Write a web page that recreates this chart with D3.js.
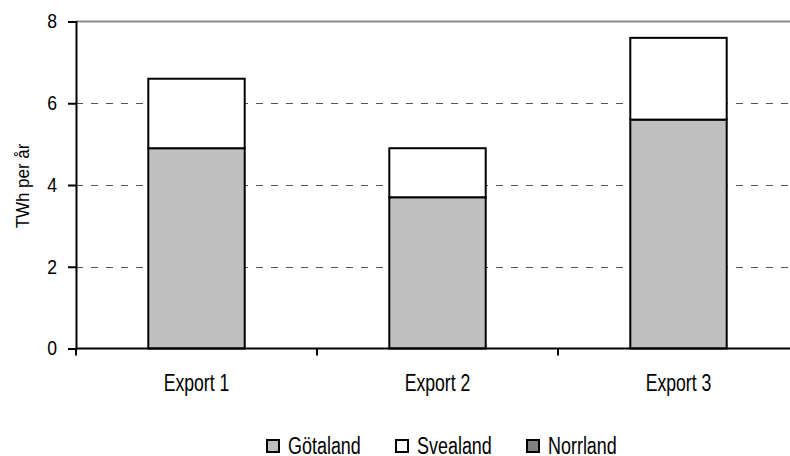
<!DOCTYPE html>
<html><head><meta charset="utf-8">
<script src="https://cdn.jsdelivr.net/npm/d3@7"></script>
<style>
html,body{margin:0;padding:0;background:#fff;}
svg{display:block;font-family:"Liberation Sans",Arial,sans-serif;}
</style></head>
<body>
<svg id="c" width="790" height="456"></svg>
<script>
const categories = ["Export 1", "Export 2", "Export 3"];
const seriesNames = ["Götaland", "Svealand", "Norrland"];
const gotaland = [4.9, 3.7, 5.6];
const svealand = [1.7, 1.2, 2.0];
const norrland = [0, 0, 0];
const yTicks = [0, 2, 4, 6, 8];
const colors = ["#c0c0c0", "#ffffff", "#808080"];

const svg = d3.select("#c");
const x0 = 76, x1 = 799, yTop = 21.5, yBot = 348.5;
const x = d3.scaleBand().domain(categories).range([x0, x1]).padding(0);
const y = d3.scaleLinear().domain([0, 8]).range([yBot, yTop]);

const rows = categories.map((c, i) => ({cat: c, "Götaland": gotaland[i], "Svealand": svealand[i], "Norrland": norrland[i]}));
const stack = d3.stack().keys(seriesNames)(rows);

// narrow the glyphs (emulates a condensed face)
function narrow(sel, f) {
  sel.each(function () {
    const w = this.getComputedTextLength();
    if (w > 0) {
      this.setAttribute("textLength", (w * f).toFixed(2));
      this.setAttribute("lengthAdjust", "spacingAndGlyphs");
    }
  });
}

// gridlines
svg.append("g").selectAll("line").data(yTicks.filter(t => t > 0 && t < 8)).join("line")
  .attr("x1", x0).attr("x2", x1).attr("y1", d => Math.round(y(d)) + 0.5).attr("y2", d => Math.round(y(d)) + 0.5)
  .attr("stroke", "#555").attr("stroke-width", 1).attr("stroke-dasharray", "7,8");
// top line
svg.append("line").attr("x1", x0).attr("x2", x1).attr("y1", y(8)).attr("y2", y(8))
  .attr("stroke", "#8c8c8c").attr("stroke-width", 2);

// bars
const bw = x.bandwidth() * 0.4;
stack.forEach((s, si) => {
  svg.append("g").selectAll("rect").data(s.filter(d => d[1] - d[0] > 0)).join("rect")
    .attr("x", d => x(d.data.cat) + (x.bandwidth() - bw) / 2)
    .attr("width", bw)
    .attr("y", d => y(d[1]))
    .attr("height", d => y(d[0]) - y(d[1]))
    .attr("fill", colors[si]).attr("stroke", "#000").attr("stroke-width", 2);
});

// y axis
const yAxis = d3.axisLeft(y).tickValues(yTicks).tickSize(8).tickPadding(11).tickFormat(d3.format("d"));
const gy = svg.append("g").attr("transform", `translate(${x0},0)`).call(yAxis);
gy.attr("font-family", null);
gy.select(".domain").attr("stroke", "#000").attr("stroke-width", 2);
gy.selectAll(".tick line").attr("stroke", "#000").attr("stroke-width", 2);
gy.selectAll("text").attr("font-size", 20).attr("fill", "#000").call(narrow, 0.88);

// x axis
const gx = svg.append("g").attr("transform", `translate(0,${yBot})`);
gx.append("line").attr("x1", x0).attr("x2", x1).attr("stroke", "#000").attr("stroke-width", 2);
const bounds = categories.map(c => x(c)).concat([x1]);
gx.selectAll("line.t").data(bounds).join("line").attr("class", "t")
  .attr("x1", d => d).attr("x2", d => d).attr("y1", 0).attr("y2", 7)
  .attr("stroke", "#000").attr("stroke-width", 2);
gx.selectAll("text").data(categories).join("text")
  .attr("x", d => x(d) + x.bandwidth() / 2).attr("y", 42)
  .attr("text-anchor", "middle").attr("font-size", 24).attr("fill", "#000").text(d => d).call(narrow, 0.735);

// y label
svg.append("text").attr("transform", "translate(29,186) rotate(-90)")
  .attr("text-anchor", "middle").attr("font-size", 18).attr("fill", "#000").text("TWh per år").call(narrow, 0.94);

// legend
const legX = [266, 395, 526];
const lg = svg.append("g").selectAll("g").data(seriesNames).join("g")
  .attr("transform", (d, i) => `translate(${legX[i]},439)`);
lg.append("rect").attr("x", 1).attr("y", 1).attr("width", 12).attr("height", 12)
  .attr("fill", (d, i) => colors[i]).attr("stroke", "#000").attr("stroke-width", 2);
lg.append("text").attr("x", 22).attr("y", 14.5).attr("font-size", 23).attr("fill", "#000").text(d => d).call(narrow, 0.78);
</script>
</body></html>
